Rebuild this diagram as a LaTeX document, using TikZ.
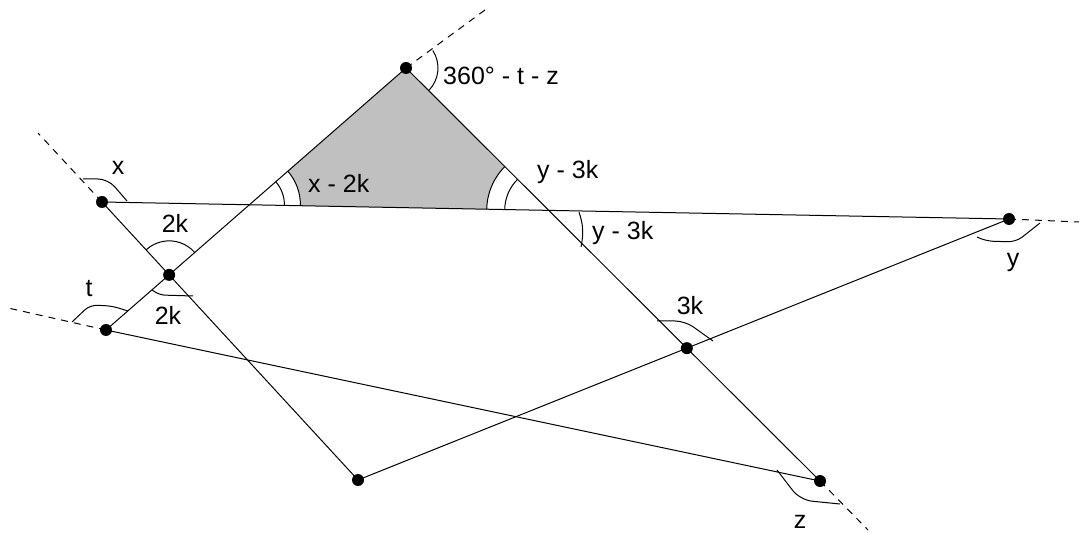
\documentclass[tikz,border=0pt]{standalone}
\usepackage{fontspec}
\setmainfont{Liberation Sans}
\usepackage{tikz}
\definecolor{ShadeGray}{RGB}{192,192,192}
\tikzset{
    seg/.style={line width=1pt, black},
    extline/.style={line width=1pt, black, dash pattern=on 7pt off 6pt},
    anglemark/.style={line width=1pt, black},
    dotpt/.style={circle, fill=black, inner sep=0pt, minimum size=12pt},
    lbl/.style={font=\fontsize{25}{30}\selectfont, inner sep=0pt},
}

\begin{document}
\begin{tikzpicture}[x=1pt, y=1pt]
\useasboundingbox (0,0) rectangle (1079,533);

\coordinate (A) at (406,465);
\coordinate (X) at (102,331);
\coordinate (Y) at (1009,314);
\coordinate (T) at (106,203);
\coordinate (B) at (358,53);
\coordinate (Z) at (820,52);
\coordinate (P) at (intersection of X--B and A--T);
\coordinate (Q) at (intersection of A--Z and B--Y);
\coordinate (C1) at (intersection of X--Y and A--T);
\coordinate (C2) at (intersection of X--Y and A--Z);

\coordinate (aend) at (485,523);
\coordinate (xend) at (38,400);
\coordinate (tend) at (8,225);
\coordinate (yend) at (1079,311);
\coordinate (zend) at (868,3);

% shaded triangle
\fill[ShadeGray] (A) -- (C1) -- (C2) -- cycle;
\fill[white] (C1) -- ([shift={(-1:51pt)}]C1) arc[start angle=-1, end angle=41.3, radius=51pt] -- cycle;
\fill[white] (C2) -- ([shift={(135:62pt)}]C2) arc[start angle=135, end angle=179, radius=62pt] -- cycle;

\draw[seg] (X) -- (Y);
\draw[seg] (X) -- (B);
\draw[seg] (A) -- (T);
\draw[seg] (A) -- (Z);
\draw[seg] (T) -- (Z);
\draw[seg] (B) -- (Y);

\draw[extline] (A) -- (aend);
\draw[extline] (X) -- (xend);
\draw[extline] (T) -- (tend);
\draw[extline] (Y) -- (yend);
\draw[extline] (Z) -- (zend);

\draw[anglemark] ([shift={(33:32pt)}]A) arc[start angle=33, end angle=-45, radius=32pt];
\draw[anglemark] ([shift={(-1:35pt)}]C1) arc[start angle=-1, end angle=41.3, radius=35pt];
\draw[anglemark] ([shift={(-1:51pt)}]C1) arc[start angle=-1, end angle=41.3, radius=51pt];
\draw[anglemark] ([shift={(135:44pt)}]C2) arc[start angle=135, end angle=179, radius=44pt];
\draw[anglemark] ([shift={(135:62pt)}]C2) arc[start angle=135, end angle=179, radius=62pt];
\draw[anglemark] (579,321) to[bend left=15] (581,286);
\draw[anglemark] ([shift={(41:34pt)}]P) arc[start angle=41, end angle=132.5, radius=34pt];
\draw[anglemark, rounded corners=5pt] (152,243) -- (160,238) -- (193,237);
\draw[anglemark, rounded corners=10pt] (83,354) -- (108,354) -- (127,332);
\draw[anglemark, rounded corners=7pt] (72,211) -- (90,228) -- (112,227) -- (128,222);
\draw[anglemark, rounded corners=10pt] (657,212) -- (685,212) -- (713,192);
\draw[anglemark, rounded corners=8pt] (977,296) -- (985,292) -- (1016,291) -- (1040,310);
\draw[anglemark, rounded corners=12pt] (777,63) -- (800,33) -- (840,29);

\node[dotpt] (dA) at (A) {};
\node[dotpt] (dX) at (X) {};
\node[dotpt] (dY) at (Y) {};
\node[dotpt] (dT) at (T) {};
\node[dotpt] (dB) at (B) {};
\node[dotpt] (dZ) at (Z) {};
\node[dotpt] (dP) at (P) {};
\node[dotpt] (dQ) at (Q) {};

\node[lbl, anchor=base west] (l360) at (443,448) {360° - t - z};
\node[lbl, anchor=base west] (lx2k) at (308,340) {x - 2k};
\node[lbl, anchor=base west] (ly3ka) at (537,354) {y - 3k};
\node[lbl, anchor=base west] (ly3kb) at (592,293) {y - 3k};
\node[lbl, anchor=base] (lx) at (118,358) {x};
\node[lbl, anchor=base] (l2ka) at (175,300) {2k};
\node[lbl, anchor=base] (l2kb) at (168,208) {2k};
\node[lbl, anchor=base] (lt) at (89,236) {t};
\node[lbl, anchor=base] (l3k) at (690,218) {3k};
\node[lbl, anchor=base] (ly) at (1013,266) {y};
\node[lbl, anchor=base] (lz) at (800,5) {z};
\end{tikzpicture}
\end{document}
